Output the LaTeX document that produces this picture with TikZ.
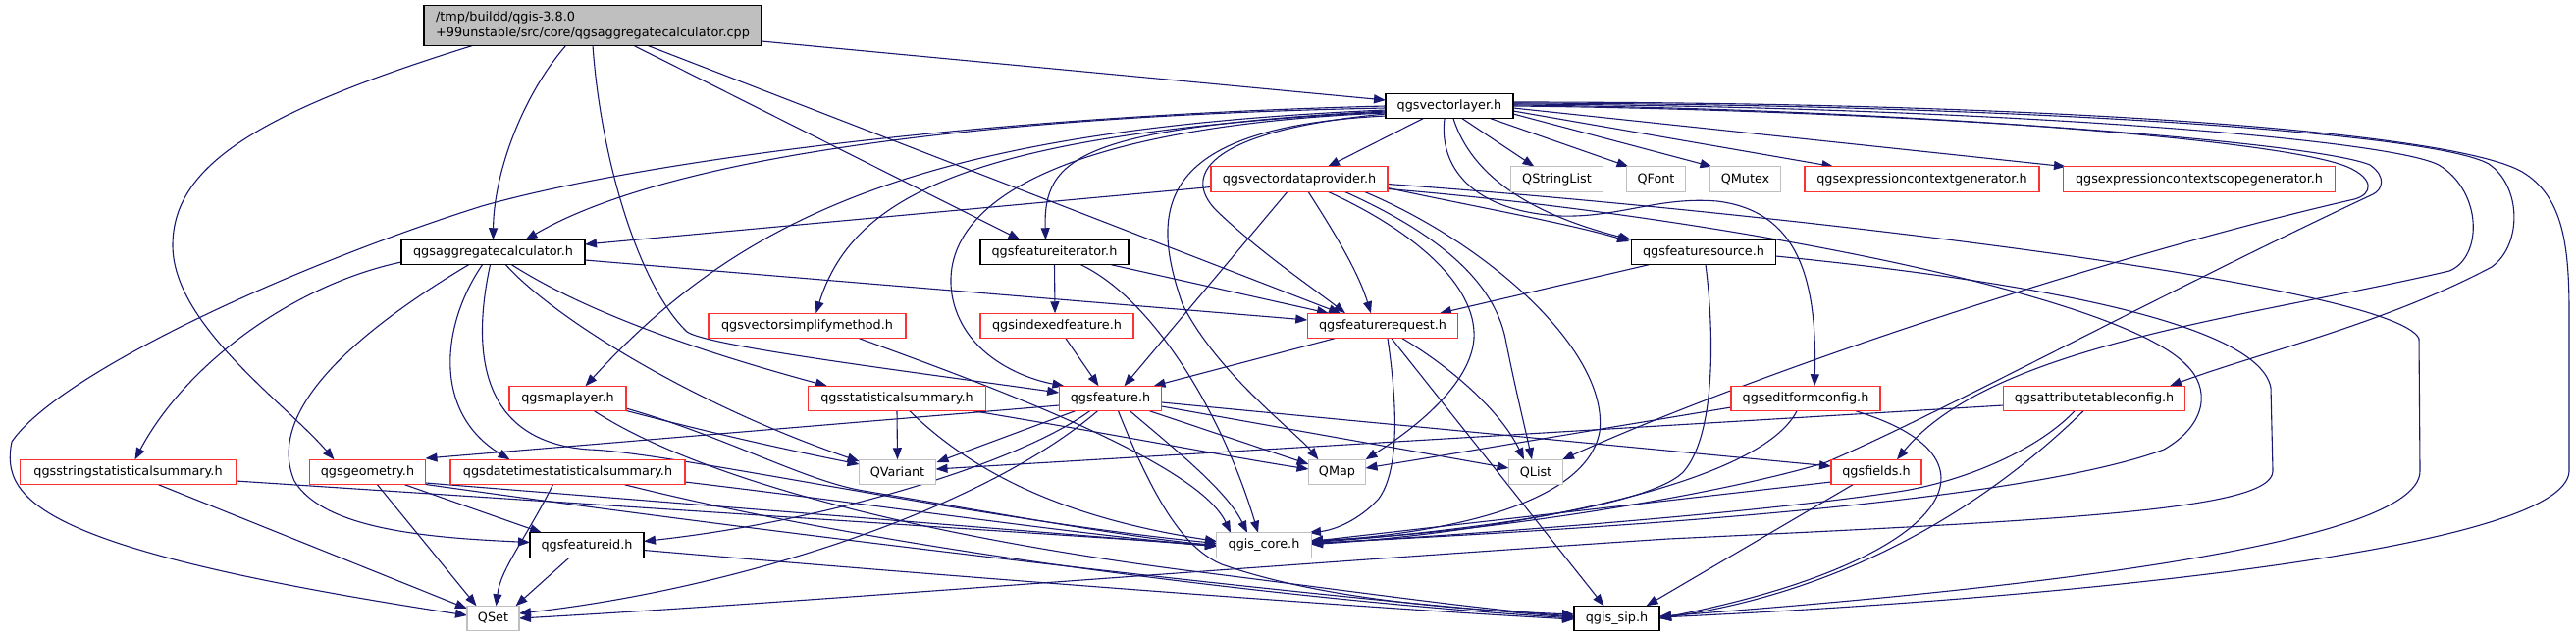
\documentclass[tikz,border=0pt]{standalone}
\usepackage{fontspec}
\newfontfamily\dvs{DejaVu Sans}
\usetikzlibrary{arrows.meta,calc}
\pgfdeclarelayer{bg}
\pgfsetlayers{bg,main}
\definecolor{edgec}{HTML}{191970}
\definecolor{redc}{HTML}{FF3030}
\definecolor{grayc}{HTML}{BFBFBF}
\tikzset{
 box/.style={rectangle, fill=white, minimum height=25.5pt, inner xsep=1pt, inner ysep=0pt,
   font=\dvs\fontsize{12.8}{15.2}\selectfont, line width=1.3pt},
 blk/.style={box, draw=black},
 rd/.style={box, draw=redc},
 gy/.style={box, draw=grayc},
 dep/.style={draw=edgec, line width=1.1pt, -{Triangle[length=12pt,width=9pt]}},
}
\begin{document}
\begin{tikzpicture}[x=1pt,y=-1pt]
\useasboundingbox (0,0) rectangle (2625,649);
% nodes
\node[box, draw=black, fill=grayc, minimum width=344pt, minimum height=40.5pt, align=left] (root) at (604,26) {/tmp/buildd/qgis-3.8.0\\+99unstable/src/core/qgsaggregatecalculator.cpp};
\node[blk, minimum width=130pt] (vl) at (1477,108) {qgsvectorlayer.h};
\node[rd, minimum width=180pt] (vdp) at (1324,182.5) {qgsvectordataprovider.h};
\node[gy, minimum width=93.5pt] (qsl) at (1586.5,182.5) {QStringList};
\node[gy, minimum width=60.5pt] (qfont) at (1687.5,182.5) {QFont};
\node[gy, minimum width=72.5pt] (qmutex) at (1778.5,182.5) {QMutex};
\node[rd, minimum width=239pt] (ecg) at (1958.5,182.5) {qgsexpressioncontextgenerator.h};
\node[rd, minimum width=277pt] (ecsg) at (2241,182.5) {qgsexpressioncontextscopegenerator.h};
\node[blk, minimum width=187pt] (ac) at (502.5,257) {qgsaggregatecalculator.h};
\node[blk, minimum width=151pt] (fi) at (1074.5,257) {qgsfeatureiterator.h};
\node[blk, minimum width=147pt] (fs) at (1736,257) {qgsfeaturesource.h};
\node[rd, minimum width=201pt] (vsm) at (822.5,332) {qgsvectorsimplifymethod.h};
\node[rd, minimum width=156pt] (ixf) at (1077,332) {qgsindexedfeature.h};
\node[rd, minimum width=153.5pt] (fr) at (1409,332) {qgsfeaturerequest.h};
\node[rd, minimum width=119pt] (ml) at (578.5,406) {qgsmaplayer.h};
\node[rd, minimum width=181pt] (ss) at (914,406) {qgsstatisticalsummary.h};
\node[rd, minimum width=104.6pt] (ft) at (1131.5,406) {qgsfeature.h};
\node[rd, minimum width=152pt] (ef) at (1840,406) {qgseditformconfig.h};
\node[rd, minimum width=185pt] (atc) at (2134,406) {qgsattributetableconfig.h};
\node[rd, minimum width=219.5pt] (sss) at (130.5,481) {qgsstringstatisticalsummary.h};
\node[rd, minimum width=118.6pt] (geo) at (374.5,481) {qgsgeometry.h};
\node[rd, minimum width=239pt] (dts) at (578.5,481) {qgsdatetimestatisticalsummary.h};
\node[gy, minimum width=78pt] (qv) at (914.5,481) {QVariant};
\node[gy, minimum width=58.5pt] (qmap) at (1362.5,481) {QMap};
\node[gy, minimum width=55pt] (qlist) at (1565,481) {QList};
\node[rd, minimum width=92pt] (fld) at (1912,481) {qgsfields.h};
\node[blk, minimum width=116pt] (fid) at (598,555.5) {qgsfeatureid.h};
\node[gy, minimum width=96.5pt] (core) at (1288,555.5) {qgis\_core.h};
\node[gy, minimum width=53pt] (qset) at (502.5,630) {QSet};
\node[blk, minimum width=87pt] (sip) at (1647.5,630) {qgis\_sip.h};
% edges
\begin{pgfonlayer}{bg}
% root
\draw[dep] ($(root)+(172,16)$) -- ($(vl)+(-65,-6)$);
\draw[dep] ($(root)+(-27,20)$) .. controls (530,100) and (503,180) .. ($(ac)+(0,-12.75)$);
\draw[dep] ($(root)+(0,20)$) .. controls (612,160) and (650,290) .. (700,338) .. controls (720,352) and (900,375) .. ($(ft)+(-52.3,-6)$);
\draw[dep] ($(root)+(41,20)$) -- ($(fi)+(-35,-12.75)$);
\draw[dep] ($(root)+(55,20)$) -- ($(fr)+(-43,-12.75)$);
\draw[dep] ($(root)+(-121,20)$) .. controls (260,115) and (176,170) .. (176,250) .. controls (176,330) and (290,410) .. ($(geo)+(-34,-12.75)$);
% vectorlayer
\draw[dep] ($(vl)+(-27,12.75)$) -- ($(vdp)+(29,-12.75)$);
\draw[dep] ($(vl)+(13,12.75)$) -- ($(qsl)+(-23,-12.75)$);
\draw[dep] ($(vl)+(42,12.75)$) -- ($(qfont)+(-28,-12.75)$);
\draw[dep] ($(vl)+(65,8)$) -- ($(qmutex)+(-34,-12.75)$);
\draw[dep] ($(vl)+(65,5)$) -- ($(ecg)+(-90,-12.75)$);
\draw[dep] ($(vl)+(65,2)$) -- ($(ecsg)+(-136,-12.75)$);
\draw[dep] ($(vl)+(-5,12.75)$) .. controls (1466,170) and (1500,215) .. (1589,220) .. controls (1650,222) and (1690,200) .. (1750,205) .. controls (1830,215) and (1852,280) .. ($(ef)+(9,-12.75)$);
\draw[dep] ($(vl)+(4,12.75)$) .. controls (1500,180) and (1560,218) .. ($(fs)+(-74,-12.75)$);
\draw[dep] ($(vl)+(65,-1)$) .. controls (1900,110) and (2320,140) .. (2392,170) .. controls (2420,182) and (2418,198) .. (2399,203) .. controls (2150,260) and (1800,375) .. ($(qlist)+(27,-12.75)$);
\draw[dep] ($(vl)+(65,0)$) .. controls (1950,112) and (2360,145) .. (2415,168) .. controls (2432,180) and (2428,193) .. (2418,198) .. controls (2200,300) and (1980,420) .. (1861,471) .. controls (1750,505) and (1500,545) .. ($(core)+(48,-5)$);
\draw[dep] ($(vl)+(65,-2)$) .. controls (2000,108) and (2430,140) .. (2485,168) .. controls (2530,195) and (2530,262) .. (2496,276) .. controls (2300,322) and (2030,350) .. ($(fld)+(21,-12.75)$);
\draw[dep] ($(vl)+(65,-3)$) .. controls (2050,106) and (2480,135) .. (2536,167) .. controls (2570,190) and (2570,250) .. (2539,272) .. controls (2430,330) and (2300,360) .. ($(atc)+(77,-12.75)$);
\draw[dep] ($(vl)+(65,-4)$) .. controls (2100,104) and (2500,135) .. (2570,175) .. controls (2612,200) and (2618,250) .. (2618,320) -- (2618,480) .. controls (2615,560) and (2100,610) .. ($(sip)+(43.5,-1)$);
\draw[dep] ($(vl)+(-65,2)$) .. controls (1000,118) and (680,160) .. ($(ac)+(33,-12.75)$);
\draw[dep] ($(vl)+(-65,0)$) .. controls (1000,118) and (650,165) .. (491,210) .. controls (300,270) and (60,380) .. (12,450) .. controls (0,510) and (40,560) .. ($(qset)+(-26.5,-3)$);
\draw[dep] ($(vl)+(-65,4)$) .. controls (950,132) and (760,215) .. ($(ml)+(18,-12.75)$);
\draw[dep] ($(vl)+(-65,6)$) .. controls (1000,135) and (870,195) .. ($(vsm)+(9,-12.75)$);
\draw[dep] ($(vl)+(-65,5)$) .. controls (1100,130) and (1063,160) .. ($(fi)+(-9,-12.75)$);
\draw[dep] ($(vl)+(-65,7)$) .. controls (1100,128) and (955,200) .. (970,300) .. controls (980,360) and (1040,385) .. ($(ft)+(-47,-12.75)$);
\draw[dep] ($(vl)+(-65,8)$) .. controls (1240,132) and (1200,175) .. (1240,215) .. controls (1285,258) and (1340,295) .. ($(fr)+(-38,-12.75)$);
\draw[dep] ($(vl)+(-65,10)$) .. controls (1180,130) and (1170,210) .. (1205,310) .. controls (1240,380) and (1320,440) .. ($(qmap)+(-19,-12.75)$);
% vectordataprovider
\draw[dep] ($(vdp)+(90,9)$) .. controls (1500,210) and (1600,228) .. ($(fs)+(-76,-11)$);
\draw[dep] ($(vdp)+(-90,8)$) -- ($(ac)+(93.5,-8)$);
\draw[dep] ($(vdp)+(-12,12.75)$) -- ($(ft)+(14,-12.75)$);
\draw[dep] ($(vdp)+(9,12.75)$) .. controls (1365,245) and (1385,280) .. ($(fr)+(-12,-12.75)$);
\draw[dep] ($(vdp)+(29,12.75)$) .. controls (1440,235) and (1505,290) .. (1502,345) .. controls (1498,400) and (1420,450) .. ($(qmap)+(29,-12.75)$);
\draw[dep] ($(vdp)+(46,12.75)$) .. controls (1470,240) and (1525,290) .. (1535,350) .. controls (1545,400) and (1555,440) .. ($(qlist)+(-4,-12.75)$);
\draw[dep] ($(vdp)+(66,12.75)$) .. controls (1520,250) and (1640,360) .. (1630,440) .. controls (1615,520) and (1450,545) .. ($(core)+(48,-4)$);
\draw[dep] ($(vdp)+(90,5)$) .. controls (1800,215) and (2440,290) .. (2465,345) -- (2466,480) .. controls (2466,560) and (2000,605) .. ($(sip)+(43.5,-2)$);
\draw[dep] ($(vdp)+(90,10)$) .. controls (1750,220) and (2160,300) .. (2228,372) .. controls (2252,395) and (2250,432) .. (2205,458) .. controls (2050,515) and (1600,540) .. ($(core)+(48,-2)$);
% featuresource
\draw[dep] ($(fs)+(-56,12.75)$) -- ($(fr)+(58,-12.75)$);
\draw[dep] ($(fs)+(2,12.75)$) .. controls (1746,330) and (1750,440) .. (1716,480) .. controls (1680,520) and (1450,545) .. ($(core)+(48,-3)$);
\draw[dep] ($(fs)+(73.5,4)$) .. controls (2000,280) and (2300,320) .. (2314,395) -- (2316,480) .. controls (2316,520) and (2100,530) .. (1700,549) .. controls (1300,575) and (800,615) .. ($(qset)+(26.5,0)$);
% featureiterator
\draw[dep] ($(fi)+(0,12.75)$) -- ($(ixf)+(-2,-12.75)$);
\draw[dep] ($(fi)+(58,12.75)$) -- ($(fr)+(-55,-12.75)$);
\draw[dep] ($(fi)+(27,12.75)$) .. controls (1175,305) and (1245,420) .. ($(core)+(-6,-12.75)$);
% featurerequest
\draw[dep] ($(fr)+(-49,12.75)$) -- ($(ft)+(44,-12.75)$);
\draw[dep] ($(fr)+(5,12.75)$) .. controls (1425,420) and (1425,480) .. (1405,508) .. controls (1385,530) and (1360,540) .. ($(core)+(46,-12.75)$);
\draw[dep] ($(fr)+(9,12.75)$) -- ($(sip)+(-13,-12.75)$);
\draw[dep] ($(fr)+(20,12.75)$) .. controls (1480,375) and (1530,420) .. ($(qlist)+(-12,-12.75)$);
\draw[dep] ($(ixf)+(9,12.75)$) -- ($(ft)+(-12,-12.75)$);
% aggregatecalculator
\draw[dep] ($(ac)+(93.5,8)$) -- ($(fr)+(-76.75,-6)$);
\draw[dep] ($(ac)+(-93.5,10)$) .. controls (300,290) and (190,370) .. ($(sss)+(7,-12.75)$);
\draw[dep] ($(ac)+(-25,12.75)$) .. controls (360,340) and (270,420) .. (300,490) .. controls (330,540) and (440,548) .. ($(fid)+(-58,-3)$);
\draw[dep] ($(ac)+(-11,12.75)$) .. controls (450,330) and (440,420) .. ($(dts)+(-59,-12.75)$);
\draw[dep] ($(ac)+(-3,12.75)$) .. controls (480,360) and (490,450) .. (600,458) .. controls (680,460) and (1000,530) .. ($(core)+(-48,-2)$);
\draw[dep] ($(ac)+(13,12.75)$) .. controls (560,320) and (700,410) .. ($(qv)+(-39,-11)$);
\draw[dep] ($(ac)+(19,12.75)$) .. controls (600,320) and (720,360) .. ($(ss)+(-71,-12.75)$);
% maplayer
\draw[dep] ($(ml)+(58,12)$) .. controls (720,440) and (800,458) .. ($(qv)+(-39,-8)$);
\draw[dep] ($(ml)+(59.5,10)$) .. controls (740,445) and (820,490) .. (880,500) .. controls (1000,520) and (1150,548) .. ($(core)+(-48,0)$);
\draw[dep] ($(ml)+(27,12.75)$) .. controls (700,480) and (900,540) .. (1200,580) .. controls (1400,605) and (1500,620) .. ($(sip)+(-43.5,-2)$);
% statisticalsummary
\draw[dep] ($(ss)+(0,12.75)$) -- ($(qv)+(0,-12.75)$);
\draw[dep] ($(ss)+(13,12.75)$) .. controls (1000,490) and (1100,530) .. ($(core)+(-48,-4)$);
\draw[dep] ($(ss)+(78,12.75)$) .. controls (1150,445) and (1250,465) .. ($(qmap)+(-29,-3)$);
% vectorsimplifymethod
\draw[dep] ($(vsm)+(53,12.75)$) .. controls (1000,390) and (1220,470) .. ($(core)+(-34,-12.75)$);
% feature
\draw[dep] ($(ft)+(-52.3,7)$) -- ($(geo)+(59,-14)$);
\draw[dep] ($(ft)+(-36,12.75)$) -- ($(qv)+(40,-10)$);
\draw[dep] ($(ft)+(-21,12.75)$) .. controls (1040,470) and (850,530) .. ($(fid)+(58,-4)$);
\draw[dep] ($(ft)+(-13,12.75)$) .. controls (1000,520) and (750,600) .. ($(qset)+(26.5,-5)$);
\draw[dep] ($(ft)+(8,12.75)$) .. controls (1180,520) and (1210,560) .. (1245,575) .. controls (1350,612) and (1500,622) .. ($(sip)+(-43.5,-4)$);
\draw[dep] ($(ft)+(20,12.75)$) .. controls (1200,460) and (1250,500) .. ($(core)+(-17,-12.75)$);
\draw[dep] ($(ft)+(40,12.75)$) -- ($(qmap)+(-29,-8)$);
\draw[dep] ($(ft)+(52.3,8)$) -- ($(qlist)+(-27.5,-4)$);
\draw[dep] ($(ft)+(52.3,4)$) -- ($(fld)+(-46,-6)$);
% string statistical summary
\draw[dep] ($(sss)+(31,12.75)$) -- ($(qset)+(-26.5,-10)$);
\draw[dep] ($(sss)+(109.75,9)$) -- ($(core)+(-48,0)$);
% geometry
\draw[dep] ($(geo)+(10,12.75)$) -- ($(qset)+(-17,-12.75)$);
\draw[dep] ($(geo)+(38,12.75)$) -- ($(fid)+(-46,-12.75)$);
\draw[dep] ($(geo)+(59.3,11)$) -- ($(core)+(-48,1)$);
\draw[dep] ($(geo)+(59.3,12.5)$) .. controls (800,545) and (1300,605) .. ($(sip)+(-43.5,-1)$);
% datetime statistical summary
\draw[dep] ($(dts)+(-15,12.75)$) .. controls (535,550) and (510,580) .. ($(qset)+(3,-12.75)$);
\draw[dep] ($(dts)+(119.5,10)$) .. controls (900,515) and (1100,545) .. ($(core)+(-48,1)$);
\draw[dep] ($(dts)+(58,12.75)$) .. controls (900,560) and (1300,610) .. ($(sip)+(-43.5,0)$);
% featureid
\draw[dep] ($(fid)+(-18,12.75)$) -- ($(qset)+(23,-12.75)$);
\draw[dep] ($(fid)+(58,5)$) .. controls (1000,590) and (1400,620) .. ($(sip)+(-43.5,1)$);
% editformconfig
\draw[dep] ($(ef)+(-76,9)$) -- ($(qmap)+(29,-4)$);
\draw[dep] ($(ef)+(-9,12.75)$) .. controls (1790,500) and (1500,545) .. ($(core)+(48,-1)$);
\draw[dep] ($(ef)+(51,12.75)$) .. controls (2060,470) and (1975,575) .. ($(sip)+(43.5,0)$);
% attributetableconfig
\draw[dep] ($(atc)+(-92.5,7)$) -- ($(qv)+(39,-3)$);
\draw[dep] ($(atc)+(-20,12.75)$) .. controls (2080,455) and (2010,488) .. (1940,500) .. controls (1800,522) and (1500,545) .. ($(core)+(48,-2)$);
\draw[dep] ($(atc)+(-11,12.75)$) .. controls (2040,500) and (1900,600) .. ($(sip)+(43.5,0)$);
% fields
\draw[dep] ($(fld)+(-46,10)$) -- ($(core)+(48,-4)$);
\draw[dep] ($(fld)+(-24,12.75)$) -- ($(sip)+(30,-12.75)$);
\end{pgfonlayer}
\end{tikzpicture}
\end{document}
